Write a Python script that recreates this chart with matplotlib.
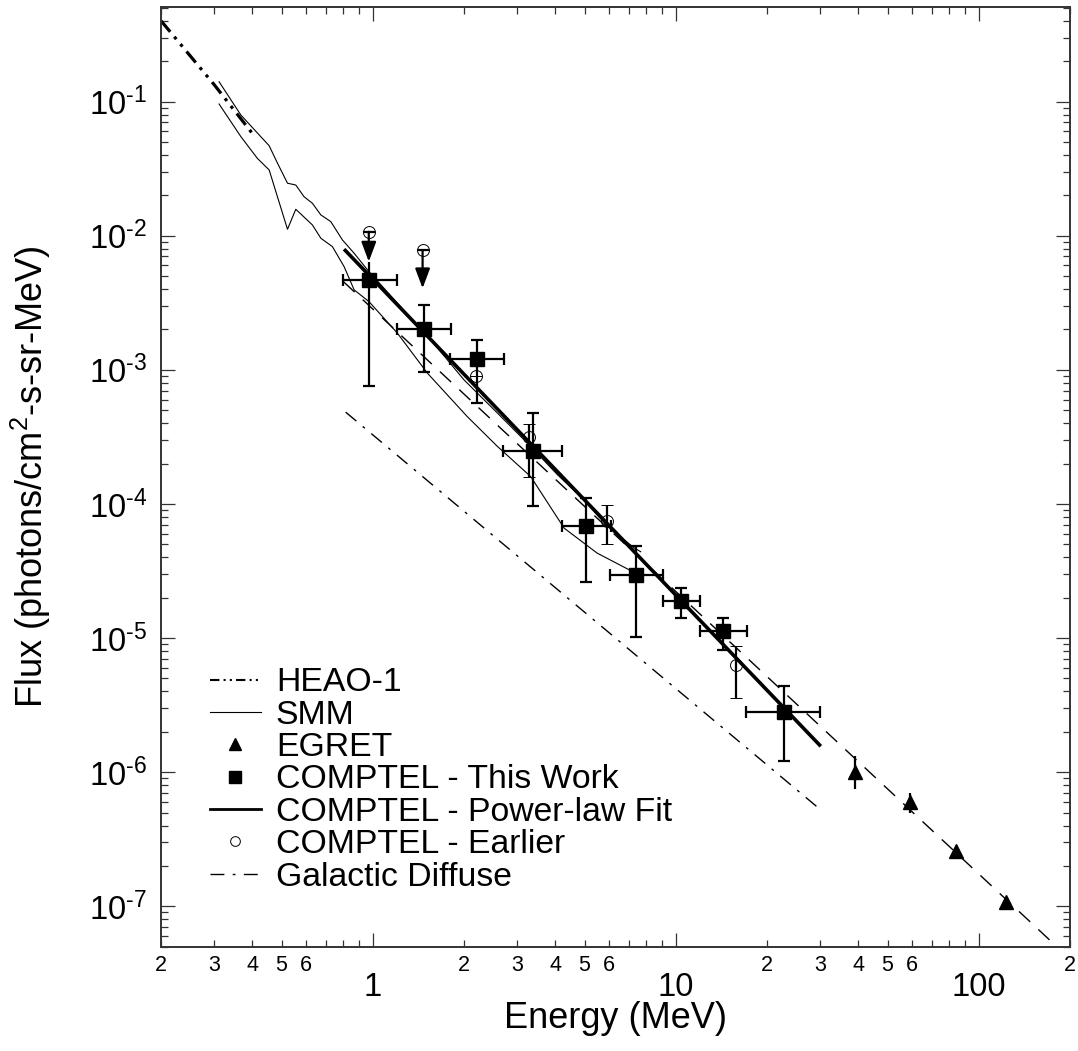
import numpy as np
import matplotlib
matplotlib.use('Agg')
import matplotlib.pyplot as plt
from matplotlib.lines import Line2D
from matplotlib import ticker

plt.rcParams['font.family'] = ['Liberation Sans', 'DejaVu Sans']
plt.rcParams['mathtext.fontset'] = 'custom'
plt.rcParams['mathtext.rm'] = 'Liberation Sans'
plt.rcParams['mathtext.it'] = 'Liberation Sans:italic'
plt.rcParams['mathtext.bf'] = 'Liberation Sans:bold'
plt.rcParams['axes.unicode_minus'] = False

# HEAO-1 spectrum
heao_x = [0.2, 0.3, 0.4]
heao_y = [0.40, 0.133, 0.058]

# SMM spectrum band (upper / lower edges)
smm_up_x = [0.311, 0.367, 0.455, 0.485, 0.523, 0.557, 0.593, 0.632, 0.674, 0.727,
            0.794, 0.868, 0.961, 1.206, 1.554, 2.00, 2.58, 3.32, 4.07, 4.98, 5.95, 7.29, 7.66]
smm_up_y = [0.1404, 0.0793, 0.0468, 0.0346, 0.0246, 0.02385, 0.01952, 0.01743, 0.01427, 0.01272,
            0.00929, 0.00739, 0.00555, 0.003135, 0.00167, 8.41e-4, 4.75e-4, 2.68e-4, 1.65e-4,
            1.07e-4, 6.8e-5, 4.7e-5, 4.4e-5]
smm_lo_x = [0.311, 0.367, 0.416, 0.455, 0.523, 0.557, 0.632, 0.674, 0.736, 0.804, 0.868,
            0.972, 1.206, 1.515, 2.05, 2.58, 3.32, 4.28, 5.5, 7.2]
smm_lo_y = [0.0958, 0.0547, 0.0377, 0.0309, 0.01116, 0.01573, 0.01202, 0.00956, 0.00828,
            0.00588, 0.00394, 0.00322, 0.001874, 9.43e-4, 4.48e-4, 2.68e-4, 1.60e-4, 6.6e-5,
            4.3e-5, 3.13e-5]

# EGRET
egret_x = [38.9, 59.3, 84.0, 122.8]
egret_y = [1.01e-6, 5.96e-7, 2.57e-7, 1.07e-7]
egret_ylo = [7.5e-7, 4.97e-7, 2.57e-7, 1.07e-7]
egret_yhi = [1.31e-6, 7.0e-7, 2.57e-7, 1.07e-7]

# COMPTEL - this work
sq_x = [0.972, 1.476, 2.20, 3.38, 5.05, 7.38, 10.44, 14.37, 22.7]
sq_xlo = [0.80, 1.20, 1.80, 2.70, 4.20, 6.05, 9.07, 12.0, 17.1]
sq_xhi = [1.20, 1.81, 2.71, 4.20, 6.10, 9.08, 12.0, 17.15, 29.9]
sq_y = [4.68e-3, 2.01e-3, 1.20e-3, 2.46e-4, 6.9e-5, 2.93e-5, 1.90e-5, 1.13e-5, 2.81e-6]
sq_ylo = [7.58e-4, 9.6e-4, 5.7e-4, 9.57e-5, 2.64e-5, 1.01e-5, 1.41e-5, 8.2e-6, 1.22e-6]
sq_yhi = [6.4e-3, 3.06e-3, 1.66e-3, 4.75e-4, 1.10e-4, 4.82e-5, 2.36e-5, 1.41e-5, 4.41e-6]

# COMPTEL power-law fit
fit_x = [0.804, 30.1]
fit_y = [7.93e-3, 1.56e-6]

# COMPTEL - earlier
ea_x = [2.19, 3.27, 5.95, 15.78]
ea_y = [9.06e-4, 3.15e-4, 7.5e-5, 6.25e-6]
ea_ylo = [9.06e-4, 1.58e-4, 5.0e-5, 3.57e-6]
ea_yhi = [9.06e-4, 3.95e-4, 9.9e-5, 8.8e-6]
# earlier upper limits
ul_x = [0.97, 1.46]
ul_y = [1.07e-2, 7.8e-3]
ul_tip = [6.4e-3, 4.05e-3]

# extrapolated dashed power law
ext_x = [0.80, 174.0]
ext_y = [4.54e-3, 5.43e-8]

# galactic diffuse
gd_x = [0.814, 30.5]
gd_y = [4.83e-4, 5.1e-7]

heao_ls = (0, (4.5, 2, 1, 2, 1, 2))
gd_ls = (0, (10, 6, 2, 6))

fig = plt.figure(figsize=(10.78, 10.51), dpi=100)
ax = fig.add_axes([0.14935, 0.09924, 0.84323, 0.89381])
ax.set_xscale('log')
ax.set_yscale('log')
ax.set_xlim(0.2, 200)
ax.set_ylim(5e-8, 0.504)

ax.plot(heao_x, heao_y, color='k', lw=2.3, ls=heao_ls)
ax.plot(smm_up_x, smm_up_y, color='k', lw=0.8)
ax.plot(smm_lo_x, smm_lo_y, color='k', lw=0.8)
ax.plot(ext_x, ext_y, color='k', lw=1.0, ls=(0, (11, 8)))
ax.plot(gd_x, gd_y, color='k', lw=1.0, ls=gd_ls)
ax.plot(fit_x, fit_y, color='k', lw=2.6, solid_capstyle='butt')

sq_x = np.array(sq_x)
sq_y = np.array(sq_y)
xerr = [sq_x - np.array(sq_xlo), np.array(sq_xhi) - sq_x]
yup = np.array(sq_yhi) - sq_y
yup_capped = yup.copy()
yup_capped[0] = 0
ax.errorbar(sq_x, sq_y, xerr=xerr, yerr=[sq_y - np.array(sq_ylo), yup_capped],
            fmt='s', color='k', ms=9.4, elinewidth=1.6, capsize=4.3, capthick=1.6, zorder=5)
ax.vlines(sq_x[0], sq_y[0], sq_yhi[0], color='k', lw=1.6, zorder=5)

ea_x = np.array(ea_x)
ea_y = np.array(ea_y)
ax.errorbar(ea_x, ea_y, yerr=[ea_y - np.array(ea_ylo), np.array(ea_yhi) - ea_y],
            fmt='o', color='k', mfc='none', ms=8.6, mew=0.7, elinewidth=1.6,
            capsize=4.3, capthick=1.6, zorder=4)
ax.plot(ul_x, ul_y, ls='none', marker='o', mfc='none', mec='k', ms=8.6, mew=0.7, zorder=4)
ax.plot(ul_x, ul_y, ls='none', marker='_', color='k', ms=8.6, mew=1.6, zorder=4)
for x, y0, y1 in zip(ul_x, ul_y, ul_tip):
    ax.annotate('', xy=(x, y1), xytext=(x, y0),
                arrowprops=dict(arrowstyle='-|>,head_length=1.2,head_width=0.45',
                                mutation_scale=10, lw=1.6, color='k',
                                shrinkA=0, shrinkB=0), zorder=6)

egret_y = np.array(egret_y)
ax.errorbar(egret_x, egret_y,
            yerr=[egret_y - np.array(egret_ylo), np.array(egret_yhi) - egret_y],
            fmt='^', color='k', ms=9.4, elinewidth=1.6, capsize=0, zorder=5)

# axes styling
ax.xaxis.set_major_locator(ticker.FixedLocator([1, 10, 100]))
ax.xaxis.set_major_formatter(ticker.FormatStrFormatter('%g'))
ax.xaxis.set_minor_locator(ticker.LogLocator(base=10, subs=np.arange(2, 10)))


def minor_label(v, pos):
    m = int(round(v / 10 ** np.floor(np.log10(v) + 1e-9)))
    return str(m) if m in (2, 3, 4, 5, 6) else ''


def decade_label(v, pos):
    e = int(round(np.log10(v)))
    # short hyphen in the exponent instead of the math minus
    return r'$\mathregular{10^{%s%d}}$' % ('\u2010' if e < 0 else '', abs(e))


ax.xaxis.set_minor_formatter(ticker.FuncFormatter(minor_label))
ax.yaxis.set_major_locator(ticker.FixedLocator([1e-7, 1e-6, 1e-5, 1e-4, 1e-3, 1e-2, 1e-1]))
ax.yaxis.set_major_formatter(ticker.FuncFormatter(decade_label))
ax.yaxis.set_minor_locator(ticker.LogLocator(base=10, subs=np.arange(2, 10), numticks=20))
ax.yaxis.set_minor_formatter(ticker.NullFormatter())

ax.tick_params(which='both', direction='in', top=True, right=True, color='#333333')
ax.tick_params(which='major', length=10, width=0.9)
ax.tick_params(which='minor', length=5, width=0.9)
ax.tick_params(axis='x', which='major', labelsize=23.5, pad=18)
ax.tick_params(axis='x', which='minor', labelsize=15.5, pad=6)
ax.tick_params(axis='y', which='major', labelsize=23.5, pad=10)
for s in ax.spines.values():
    s.set_color('#333333')
    s.set_linewidth(1.4)

ax.set_xlabel('Energy (MeV)', fontsize=26)
ax.xaxis.set_label_coords(0.5, -0.058)
ax.set_ylabel(r'Flux (photons/cm$^2$-s-sr-MeV)', fontsize=26)
ax.yaxis.set_label_coords(-0.119, 0.5)

handles = [
    Line2D([], [], color='k', lw=1.5, ls=heao_ls),
    Line2D([], [], color='k', lw=0.8),
    Line2D([], [], color='k', ls='none', marker='^', ms=8),
    Line2D([], [], color='k', ls='none', marker='s', ms=8),
    Line2D([], [], color='k', lw=2),
    Line2D([], [], color='k', ls='none', marker='o', mfc='none', ms=7, mew=0.7),
    Line2D([], [], color='k', lw=1, ls=gd_ls),
]
labels = ['HEAO-1', 'SMM', 'EGRET', 'COMPTEL - This Work', 'COMPTEL - Power-law Fit',
          'COMPTEL - Earlier', 'Galactic Diffuse']
ax.legend(handles, labels, loc='center left', bbox_to_anchor=(0.054, 0.1775),
          frameon=False, fontsize=24.3, borderpad=0, borderaxespad=0,
          handlelength=1.5, handletextpad=0.45, labelspacing=0.04)

fig.savefig('out.png', dpi=100)
